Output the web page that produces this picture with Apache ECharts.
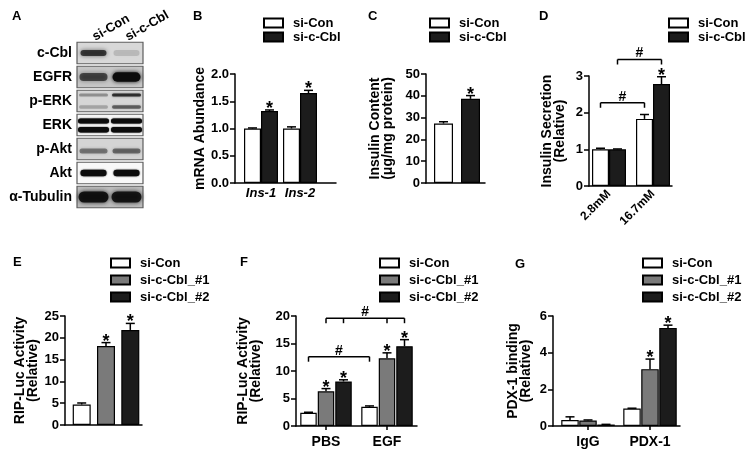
<!DOCTYPE html>
<html><head><meta charset="utf-8">
<script src="https://cdn.jsdelivr.net/npm/echarts@6/dist/echarts.min.js"></script>
<style>html,body{margin:0;padding:0;background:#fff}#c{width:750px;height:453px}</style>
</head><body><div id="c"></div><script>
const FONT = '"Liberation Sans", Arial, Helvetica, sans-serif';

// ---- Panel A (western blot) ----
const blotLanes = ['si-Con', 'si-c-Cbl'];
const blotRows = ['c-Cbl', 'EGFR', 'p-ERK', 'ERK', 'p-Akt', 'Akt', 'α-Tubulin'];
const blotBg = ['#d8d8d8', '#c6c6c6', '#d6d6d6', '#f6f6f6', '#d4d4d4', '#f8f8f8', '#bcbcbc'];
const bandConUpper = [0.72, 0.62, 0.30, 1.0, 0.42, 1.0, 0.92];
const bandCblUpper = [0.14, 1.0, 0.72, 1.0, 0.48, 1.0, 0.90];
const bandConLower = [0, 0, 0.22, 1.0, 0, 0, 0];
const bandCblLower = [0, 0, 0.50, 1.0, 0, 0, 0];

// ---- Panel B ----
const bCats = ['Ins-1', 'Ins-2'];
const bCon = [1.00, 1.00], bConErr = [0.01, 0.03];
const bCbl = [1.32, 1.65], bCblErr = [0.02, 0.05], bCblSig = [1, 1];

// ---- Panel C ----
const cCats = ['Insulin'];
const cCon = [27.3], cConErr = [0.8];
const cCbl = [38.6], cCblErr = [1.5], cCblSig = [1];

// ---- Panel D ----
const dCats = ['2.8mM', '16.7mM'];
const dCon = [1.00, 1.83], dConErr = [0.03, 0.12];
const dCbl = [1.00, 2.78], dCblErr = [0.01, 0.20], dCblSig = [0, 1];
const dBrackets = [{ legs: [[0, 0], [1, 0]], y: 2.27 }, { legs: [[0, 1], [1, 1]], y: 3.45 }];

// ---- Panel E ----
const eCats = ['RIP'];
const eCon = [4.7], eConErr = [0.35];
const eCbl1 = [18.1], eCbl1Err = [0.8], eCbl1Sig = [1];
const eCbl2 = [21.8], eCbl2Err = [1.5], eCbl2Sig = [1];

// ---- Panel F ----
const fCats = ['PBS', 'EGF'];
const fCon = [2.4, 3.5], fConErr = [0.1, 0.15];
const fCbl1 = [6.3, 12.3], fCbl1Err = [0.5, 1.0], fCbl1Sig = [1, 1];
const fCbl2 = [8.1, 14.5], fCbl2Err = [0.3, 1.2], fCbl2Sig = [1, 1];
const fBrackets = [{ legs: [[0, 0], [1, 0]], y: 12.6 }, { legs: [[0, 1], [0, 2], [1, 1], [1, 2]], y: 19.6 }];

// ---- Panel G ----
const gCats = ['IgG', 'PDX-1'];
const gCon = [0.33, 0.95], gConErr = [0.17, 0.02];
const gCbl1 = [0.30, 3.10], gCbl1Err = [0.03, 0.55], gCbl1Sig = [0, 1];
const gCbl2 = [0.08, 5.35], gCbl2Err = [0.01, 0.15], gCbl2Sig = [0, 1];

const WHITE = '#ffffff', GRAY = '#7a7a7a', BLACK = '#1c1c1c';
const AX = { color: '#000', width: 1.5 };
const grids = [], xAxes = [], yAxes = [], series = [], legends = [];

function addPanel(p) {
  const gi = grids.length;
  grids.push({ left: p.x0, top: p.top, width: p.x1 - p.x0, height: p.h });
  grids.push({ left: p.dl, top: p.top, width: p.dw, height: p.h });
  xAxes.push({ gridIndex: gi, type: 'value', min: 0, max: 1, axisLine: { show: true, lineStyle: AX },
    axisTick: { show: false }, axisLabel: { show: false }, splitLine: { show: false } });
  yAxes.push({ gridIndex: gi, type: 'value', min: p.y.min, max: p.y.max, interval: p.y.interval,
    name: p.y.name, nameLocation: 'middle', nameGap: p.y.nameGap,
    nameTextStyle: { color: '#000', fontFamily: FONT, fontWeight: 'bold', fontSize: 14, lineHeight: 13 },
    axisLine: { show: true, lineStyle: AX }, axisTick: { show: true, length: 5, lineStyle: AX },
    axisLabel: { color: '#000', fontFamily: FONT, fontWeight: 'bold', fontSize: 13, margin: 6,
      formatter: v => v.toFixed(p.y.dec || 0) },
    splitLine: { show: false } });
  xAxes.push({ gridIndex: gi + 1, type: 'category', data: p.cats, axisLine: { show: false },
    axisTick: { show: !!p.ticks, alignWithLabel: true, length: 4, lineStyle: AX },
    axisLabel: Object.assign({ show: !!p.labels, color: '#000', fontFamily: FONT, fontWeight: 'bold', fontSize: 13, interval: 0 }, p.labelStyle || {}),
    splitLine: { show: false } });
  yAxes.push({ gridIndex: gi + 1, type: 'value', min: p.y.min, max: p.y.max, show: false });
  const n = p.series.length;
  const offOf = k => (k - (n - 1) / 2) * (p.bw + p.gap);
  p.series.forEach((s, k) => {
    series.push({ type: 'bar', name: s.name, xAxisIndex: gi + 1, yAxisIndex: gi + 1, data: s.values,
      barWidth: p.bw, barGap: (p.gap / p.bw * 100) + '%', silent: true, z: 2,
      itemStyle: { color: s.color, borderColor: '#000', borderWidth: 1.2 } });
    const off = offOf(k);
    series.push({ type: 'custom', name: '_err', xAxisIndex: gi + 1, yAxisIndex: gi + 1, clip: false, z: 3, silent: true,
      data: s.values.map((v, i) => [i, v, s.errs[i], s.sig ? s.sig[i] : 0]),
      renderItem: (params, api) => {
        const c = api.value(0), v = api.value(1), e = api.value(2), sig = api.value(3);
        const b = api.coord([c, v]), t = api.coord([c, v + e]);
        const x = b[0] + off;
        const ch = [];
        if (e > 0) {
          ch.push({ type: 'line', shape: { x1: x, y1: b[1], x2: x, y2: t[1] }, style: { stroke: '#000', lineWidth: 1.5 } });
          ch.push({ type: 'line', shape: { x1: x - 4.5, y1: t[1], x2: x + 4.5, y2: t[1] }, style: { stroke: '#000', lineWidth: 1.5 } });
        }
        if (sig) ch.push({ type: 'text', style: { text: '*', x: x, y: t[1] - 1, align: 'center', verticalAlign: 'middle',
          font: 'bold 18px ' + FONT, fill: '#000' } });
        return { type: 'group', children: ch };
      } });
  });
  if (p.brackets) {
    series.push({ type: 'custom', name: '_br', xAxisIndex: gi + 1, yAxisIndex: gi + 1, clip: false, z: 3, silent: true,
      data: p.brackets.map(b => [0, b.y]),
      renderItem: (params, api) => {
        const br = p.brackets[params.dataIndex];
        const y = api.coord([0, br.y])[1];
        const xs = br.legs.map(([c, s]) => api.coord([c, br.y])[0] + offOf(s));
        const x1 = Math.min(...xs), x2 = Math.max(...xs);
        const ch = [{ type: 'line', shape: { x1: x1, y1: y, x2: x2, y2: y }, style: { stroke: '#000', lineWidth: 1.5 } }];
        xs.forEach(x => ch.push({ type: 'line', shape: { x1: x, y1: y, x2: x, y2: y + 5 }, style: { stroke: '#000', lineWidth: 1.5 } }));
        ch.push({ type: 'text', style: { text: '#', x: (x1 + x2) / 2, y: y + 1, align: 'center', verticalAlign: 'bottom',
          font: 'bold 14px ' + FONT, fill: '#000' } });
        return { type: 'group', children: ch };
      } });
  }
  legends.push({ data: p.series.map(s => s.name), left: p.lg.left, top: p.lg.top, orient: 'vertical',
    itemWidth: 19, itemHeight: 9, itemGap: p.lg.gap, padding: 0, icon: 'rect', selectedMode: false,
    textStyle: { color: '#000', fontFamily: FONT, fontWeight: 'bold', fontSize: 13, lineHeight: 14, padding: [0, 0, 0, 5] } });
}

// Blot grid (index 0)
grids.push({ left: 77, top: 41, width: 66, height: 168 });
xAxes.push({ gridIndex: 0, type: 'category', data: blotLanes, position: 'top', axisLine: { show: false }, axisTick: { show: false },
  axisLabel: { rotate: -30, margin: 3, color: '#000', fontFamily: FONT, fontWeight: 'bold', fontSize: 13, interval: 0 } });
yAxes.push({ gridIndex: 0, type: 'category', data: blotRows, inverse: true, axisLine: { show: false }, axisTick: { show: false },
  axisLabel: { margin: 5, color: '#000', fontFamily: FONT, fontWeight: 'bold', fontSize: 14, interval: 0 } });
const bandGeom = [
  { dy: [0], h: [6], w: 26, blur: 4 },
  { dy: [0], h: [8], w: 28, blur: 4 },
  { dy: [-6, 6], h: [3, 3.5], w: 29, blur: 2 },
  { dy: [-4, 4.7], h: [5, 5.5], w: 31, blur: 1.5 },
  { dy: [2], h: [5], w: 28, blur: 3 },
  { dy: [0], h: [6.5], w: 26, blur: 1.5 },
  { dy: [0], h: [11], w: 30, blur: 4 }
];
series.push({ type: 'custom', name: '_box', xAxisIndex: 0, yAxisIndex: 0, silent: true, z: 1,
  data: blotRows.map((r, i) => [0, i]),
  renderItem: (params, api) => {
    const cs = params.coordSys;
    const yc = api.coord([0, api.value(1)])[1];
    return { type: 'rect', shape: { x: cs.x, y: yc - 10.75, width: cs.width, height: 21.5 },
      style: { fill: blotBg[params.dataIndex], stroke: '#5e5e5e', lineWidth: 1.2 } };
  } });
const bandData = [];
blotRows.forEach((r, i) => {
  bandData.push([0, i, bandConUpper[i], bandConLower[i]]);
  bandData.push([1, i, bandCblUpper[i], bandCblLower[i]]);
});
series.push({ type: 'custom', name: '_band', xAxisIndex: 0, yAxisIndex: 0, silent: true, z: 2,
  data: bandData,
  renderItem: (params, api) => {
    const lane = api.value(0), row = api.value(1);
    const c = api.coord([lane, row]);
    const g = bandGeom[row];
    const ints = [api.value(2), api.value(3)];
    const ch = [];
    g.dy.forEach((dy, j) => {
      const a = ints[j];
      if (!a) return;
      let h = g.h[j];
      if (row === 1 && lane === 1) h = 9.5;
      const col = 'rgba(12,12,12,' + a + ')';
      ch.push({ type: 'rect', shape: { x: c[0] - g.w / 2, y: c[1] + dy - h / 2, width: g.w, height: h, r: h / 2 },
        style: { fill: col, shadowBlur: g.blur, shadowColor: col } });
    });
    return { type: 'group', children: ch };
  } });

addPanel({ x0: 235, x1: 336, top: 74, h: 109, dl: 241.5, dw: 78, bw: 17, gap: 0, cats: bCats, labels: true,
  labelStyle: { fontStyle: 'italic', margin: 4 },
  y: { min: 0, max: 2, interval: 0.5, dec: 1, name: 'mRNA Abundance', nameGap: 28 },
  lg: { left: 263, top: 16, gap: 0 },
  series: [{ name: 'si-Con', values: bCon, errs: bConErr, color: WHITE },
           { name: 'si-c-Cbl', values: bCbl, errs: bCblErr, sig: bCblSig, color: BLACK }] });

addPanel({ x0: 426, x1: 485, top: 74, h: 109, dl: 426, dw: 62, bw: 19, gap: 8, cats: cCats, labels: false,
  y: { min: 0, max: 50, interval: 10, name: 'Insulin Content\n(μg/mg protein)', nameGap: 31 },
  lg: { left: 429, top: 16, gap: 0 },
  series: [{ name: 'si-Con', values: cCon, errs: cConErr, color: WHITE },
           { name: 'si-c-Cbl', values: cCbl, errs: cCblErr, sig: cCblSig, color: BLACK }] });

addPanel({ x0: 589, x1: 672, top: 76, h: 110, dl: 587, dw: 88, bw: 17, gap: 0, cats: dCats, labels: true,
  labelStyle: { rotate: 45, margin: 6, fontSize: 12 },
  y: { min: 0, max: 3, interval: 1, name: 'Insulin Secretion\n(Relative)', nameGap: 22 },
  lg: { left: 668, top: 16, gap: 0 }, brackets: dBrackets,
  series: [{ name: 'si-Con', values: dCon, errs: dConErr, color: WHITE },
           { name: 'si-c-Cbl', values: dCbl, errs: dCblErr, sig: dCblSig, color: BLACK }] });

addPanel({ x0: 65, x1: 142, top: 316, h: 109, dl: 65, dw: 82, bw: 18, gap: 6.3, cats: eCats, labels: false,
  y: { min: 0, max: 25, interval: 5, name: 'RIP-Luc Activity\n(Relative)', nameGap: 23 },
  lg: { left: 110, top: 256, gap: 3 },
  series: [{ name: 'si-Con', values: eCon, errs: eConErr, color: WHITE },
           { name: 'si-c-Cbl_#1', values: eCbl1, errs: eCbl1Err, sig: eCbl1Sig, color: GRAY },
           { name: 'si-c-Cbl_#2', values: eCbl2, errs: eCbl2Err, sig: eCbl2Sig, color: BLACK }] });

addPanel({ x0: 296, x1: 417, top: 316, h: 110, dl: 295.5, dw: 122, bw: 16.5, gap: 1, cats: fCats, labels: true, ticks: true,
  labelStyle: { fontSize: 14, margin: 9 },
  y: { min: 0, max: 20, interval: 5, name: 'RIP-Luc Activity\n(Relative)', nameGap: 33 },
  lg: { left: 379, top: 256, gap: 3 }, brackets: fBrackets,
  series: [{ name: 'si-Con', values: fCon, errs: fConErr, color: WHITE },
           { name: 'si-c-Cbl_#1', values: fCbl1, errs: fCbl1Err, sig: fCbl1Sig, color: GRAY },
           { name: 'si-c-Cbl_#2', values: fCbl2, errs: fCbl2Err, sig: fCbl2Sig, color: BLACK }] });

addPanel({ x0: 553, x1: 680, top: 316, h: 110, dl: 557, dw: 124, bw: 17.5, gap: 0.5, cats: gCats, labels: true, ticks: true,
  labelStyle: { fontSize: 14, margin: 9 },
  y: { min: 0, max: 6, interval: 2, name: 'PDX-1 binding\n(Relative)', nameGap: 20 },
  lg: { left: 642, top: 256, gap: 3 },
  series: [{ name: 'si-Con', values: gCon, errs: gConErr, color: WHITE },
           { name: 'si-c-Cbl_#1', values: gCbl1, errs: gCbl1Err, sig: gCbl1Sig, color: GRAY },
           { name: 'si-c-Cbl_#2', values: gCbl2, errs: gCbl2Err, sig: gCbl2Sig, color: BLACK }] });

const panelLetters = [['A', 12, 18], ['B', 193, 18], ['C', 368, 18], ['D', 539, 18], ['E', 13, 264], ['F', 240, 264], ['G', 515, 266]];
const chart = echarts.init(document.getElementById('c'));
chart.setOption({
  animation: false,
  backgroundColor: '#fff',
  grid: grids, xAxis: xAxes, yAxis: yAxes, series: series, legend: legends,
  graphic: panelLetters.map(([t, x, y]) => ({ type: 'text', left: x, top: y - 8,
    style: { text: t, font: 'bold 13px ' + FONT, fill: '#000' } }))
});
</script></body></html>
